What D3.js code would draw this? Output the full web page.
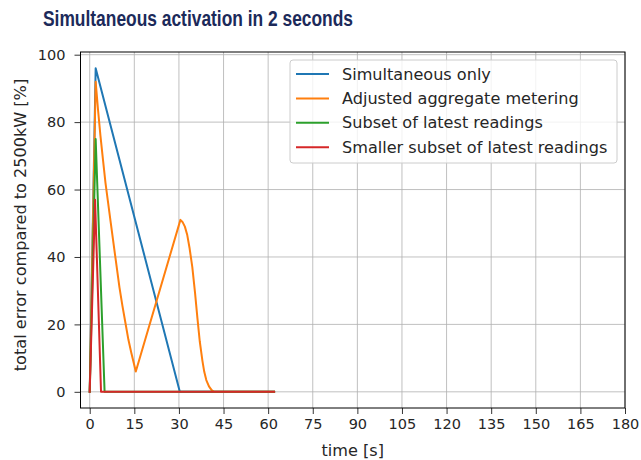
<!DOCTYPE html>
<html>
<head>
<meta charset="utf-8">
<script src="https://cdn.jsdelivr.net/npm/d3@7"></script>
<style>
  html, body { margin: 0; padding: 0; background: #fff; }
  svg { display: block; }
</style>
</head>
<body>
<svg id="chart" width="641" height="460"></svg>
<script>
// Series: time [s] and total error [%] per metering strategy
const seriesNames = [
  "Simultaneous only",
  "Adjusted aggregate metering",
  "Subset of latest readings",
  "Smaller subset of latest readings"
];
const seriesColors = ["#1f77b4", "#ff7f0e", "#2ca02c", "#d62728"];

const simultaneousT = [0, 2, 30.3, 62];
const simultaneousV = [0, 96, 0, 0];

const adjustedT = [0, 2, 2.8, 3.6, 4.5, 5.3, 6.2, 7.1, 8, 9, 10, 11, 12, 13, 14, 15.5, 30.5, 31.2, 32, 32.8, 33.6, 34.5, 35.4, 36.2, 37, 37.9, 38.5, 39.2, 40.1, 41, 41.8, 62];
const adjustedV = [0, 92, 83.6, 76, 68.5, 62, 56, 50, 44, 37.5, 31, 25.5, 20.5, 15.5, 11.5, 6, 51, 50.4, 49, 46.5, 42.5, 37, 29.5, 22, 15, 9.2, 6, 3.5, 1.6, 0.5, 0, 0];

const subsetT = [0, 2, 5, 62];
const subsetV = [0, 75, 0, 0];

const smallerT = [0, 1.8, 3.8, 62];
const smallerV = [0, 57, 0, 0];

const xTicks = d3.range(0, 181, 15);
const yTicks = [0, 20, 40, 60, 80, 100];

const allT = [simultaneousT, adjustedT, subsetT, smallerT];
const allV = [simultaneousV, adjustedV, subsetV, smallerV];

const svg = d3.select("#chart");
const m = { left: 80.5, right: 625, top: 52, bottom: 408 };

const x = d3.scaleLinear().domain([-3.1, 180]).range([m.left, m.right]);
const y = d3.scaleLinear().domain([-4.8, 100.8]).range([m.bottom, m.top]);

// Title
svg.append("text")
  .attr("x", 43).attr("y", 26)
  .attr("font-family", "Liberation Sans, Arial, sans-serif")
  .attr("font-weight", "bold")
  .attr("font-size", 22.5)
  .attr("textLength", 310)
  .attr("lengthAdjust", "spacingAndGlyphs")
  .attr("fill", "#1c2a5a")
  .text("Simultaneous activation in 2 seconds");

const font = "DejaVu Sans, sans-serif";
const tickSize = 14.5;
const labelSize = 16.1;

// Grid
const grid = svg.append("g").attr("stroke", "#b0b0b0").attr("stroke-width", 0.8);
xTicks.forEach(t => grid.append("line")
  .attr("x1", x(t)).attr("x2", x(t)).attr("y1", m.top).attr("y2", m.bottom));
yTicks.forEach(t => grid.append("line")
  .attr("x1", m.left).attr("x2", m.right).attr("y1", y(t)).attr("y2", y(t)));

// Lines
const line = d3.line().x(d => x(d[0])).y(d => y(d[1]));
allT.forEach((ts, i) => {
  const pts = ts.map((t, j) => [t, allV[i][j]]);
  svg.append("path")
    .attr("d", line(pts))
    .attr("fill", "none")
    .attr("stroke", seriesColors[i])
    .attr("stroke-width", 2)
    .attr("stroke-linejoin", "round")
    .attr("stroke-linecap", "square");
});

// Axes
const xAxis = d3.axisBottom(x).tickValues(xTicks).tickSize(6).tickPadding(5);
const yAxis = d3.axisLeft(y).tickValues(yTicks).tickSize(6).tickPadding(9);

const gx = svg.append("g").attr("transform", `translate(0,${m.bottom})`).call(xAxis);
const gy = svg.append("g").attr("transform", `translate(${m.left},0)`).call(yAxis);
[gx, gy].forEach(g => {
  g.select(".domain").remove();
  g.selectAll("line").attr("stroke", "#000").attr("stroke-width", 0.8);
  g.selectAll("text").attr("font-family", font).attr("font-size", tickSize).attr("fill", "#262626");
});

// Frame
svg.append("rect")
  .attr("x", m.left).attr("y", m.top)
  .attr("width", m.right - m.left).attr("height", m.bottom - m.top)
  .attr("fill", "none").attr("stroke", "#000").attr("stroke-width", 1);

// Axis labels
svg.append("text")
  .attr("x", (m.left + m.right) / 2).attr("y", 456)
  .attr("text-anchor", "middle")
  .attr("font-family", font).attr("font-size", labelSize).attr("fill", "#262626")
  .text("time [s]");

svg.append("text")
  .attr("transform", `translate(26,225) rotate(-90)`)
  .attr("text-anchor", "middle")
  .attr("font-family", font).attr("font-size", labelSize).attr("fill", "#262626")
  .text("total error compared to 2500kW [%]");

// Legend
const lg = svg.append("g");
lg.append("rect")
  .attr("x", 290).attr("y", 60).attr("width", 327).attr("height", 103)
  .attr("rx", 3)
  .attr("fill", "#fff").attr("fill-opacity", 0.8)
  .attr("stroke", "#cccccc").attr("stroke-width", 1);
seriesNames.forEach((name, i) => {
  const cy = 74 + i * 24.4;
  lg.append("line")
    .attr("x1", 296).attr("x2", 329).attr("y1", cy).attr("y2", cy)
    .attr("stroke", seriesColors[i]).attr("stroke-width", 2);
  lg.append("text")
    .attr("x", 342).attr("y", cy + 5.5)
    .attr("font-family", font).attr("font-size", labelSize).attr("fill", "#262626")
    .text(name);
});
</script>
</body>
</html>
